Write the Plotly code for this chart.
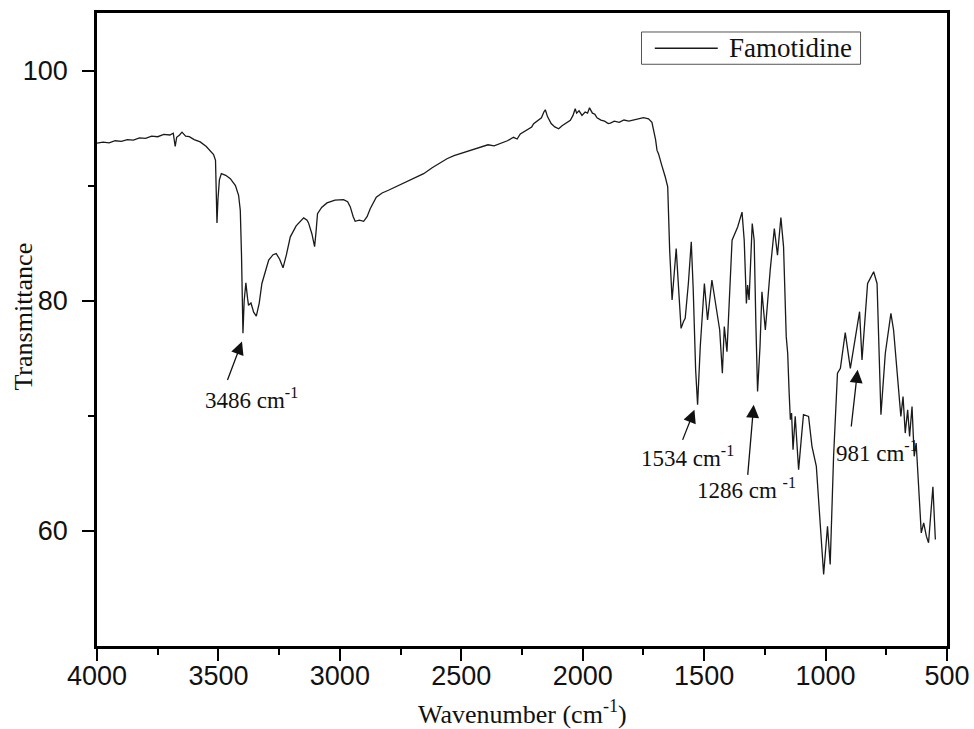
import plotly.graph_objects as go

# FT-IR spectrum of famotidine (wavenumber in cm^-1, transmittance in %)
wavenumber = [
    4000, 3975, 3950, 3925, 3900, 3875, 3850, 3825, 3800, 3775, 3750, 3725, 3700,
    3686, 3678, 3672, 3660, 3650, 3635, 3620, 3600, 3575, 3550, 3535, 3520, 3512,
    3508, 3506, 3502, 3496, 3488, 3470, 3451, 3430, 3417, 3410, 3405, 3399, 3394,
    3387, 3380, 3376, 3366, 3355, 3344, 3332, 3321, 3305, 3293, 3275, 3262, 3248,
    3234, 3220, 3204, 3180, 3160, 3149, 3135, 3129, 3115, 3104, 3098, 3092, 3075,
    3053, 3020, 2985, 2968, 2957, 2945, 2937, 2920, 2902, 2888, 2875, 2850, 2826,
    2800, 2775, 2751, 2720, 2690, 2655, 2620, 2590, 2559, 2530, 2500, 2470, 2449,
    2420, 2390, 2365, 2339, 2310, 2285, 2270, 2257, 2240, 2225, 2210, 2202, 2185,
    2170, 2160, 2154, 2145, 2130, 2115, 2099, 2085, 2070, 2051, 2040, 2031, 2025,
    2015, 2003, 1990, 1980, 1972, 1960, 1950, 1941, 1925, 1910, 1895, 1886, 1870,
    1850, 1830, 1810, 1790, 1770, 1750, 1729, 1715, 1708, 1700, 1694, 1688, 1675,
    1667, 1660, 1650, 1646, 1642, 1632, 1625, 1615, 1605, 1595, 1585, 1578, 1565,
    1553, 1545, 1535, 1527, 1516, 1499, 1486, 1468, 1450, 1436, 1425, 1417, 1406,
    1395, 1385, 1362, 1344, 1335, 1326, 1321, 1315, 1302, 1294, 1287, 1280, 1270,
    1262, 1248, 1228, 1211, 1198, 1184, 1173, 1162, 1156, 1150, 1145, 1140, 1134,
    1125, 1111, 1100, 1091, 1070, 1056, 1038, 1022, 1008, 992, 981, 967, 951,
    939, 919, 898, 878, 860, 850, 836, 827, 816, 802, 788, 772, 754,
    731, 720, 709, 699, 690, 681, 672, 662, 654, 644, 635, 627, 617,
    606, 596, 585, 576, 566, 558, 548,
]

transmittance = [
    93.70, 93.78, 93.72, 93.90, 93.85, 94.00, 93.95, 94.15, 94.10, 94.30, 94.25, 94.45, 94.40,
    94.56, 93.40, 94.20, 94.40, 94.65, 94.30, 94.25, 94.00, 93.80, 93.40, 93.00, 92.70, 92.20,
    88.50, 86.76, 88.80, 90.50, 91.04, 90.90, 90.60, 90.00, 89.16, 87.86, 84.00, 77.17, 80.00,
    81.56, 80.20, 79.60, 79.80, 79.00, 78.67, 79.80, 81.50, 82.70, 83.53, 84.00, 84.10, 83.60,
    82.86, 84.00, 85.55, 86.50, 87.00, 87.20, 87.00, 86.76, 85.80, 84.70, 86.00, 87.57, 88.10,
    88.50, 88.75, 88.79, 88.60, 88.15, 87.30, 86.90, 87.00, 86.90, 87.30, 88.00, 89.00, 89.36,
    89.60, 89.85, 90.03, 90.40, 90.70, 91.04, 91.55, 91.95, 92.34, 92.60, 92.80, 93.05, 93.20,
    93.35, 93.55, 93.45, 93.64, 93.90, 94.20, 94.05, 94.50, 94.70, 94.90, 95.10, 95.38, 95.70,
    95.90, 96.40, 96.59, 96.00, 95.40, 95.10, 94.94, 95.20, 95.40, 95.67, 96.10, 96.68, 96.30,
    96.50, 96.10, 96.40, 96.30, 96.76, 96.30, 96.20, 95.90, 95.70, 95.60, 95.40, 95.43, 95.60,
    95.50, 95.70, 95.60, 95.72, 95.80, 95.90, 95.81, 95.50, 94.80, 94.00, 93.06, 92.78, 91.80,
    91.33, 90.75, 89.90, 87.28, 84.40, 80.06, 82.00, 84.54, 81.00, 77.60, 78.20, 78.47, 81.50,
    85.12, 81.00, 74.00, 70.96, 76.00, 81.50, 78.33, 81.80, 79.48, 77.46, 73.70, 77.75, 75.58,
    80.50, 85.26, 86.41, 87.70, 85.26, 79.77, 81.36, 80.06, 86.70, 85.26, 78.00, 72.11, 76.00,
    80.78, 77.46, 82.66, 86.27, 83.96, 87.23, 84.68, 76.88, 75.44, 72.00, 69.66, 70.24, 67.06,
    69.95, 65.32, 68.00, 70.10, 69.95, 67.35, 65.61, 60.70, 56.22, 60.40, 57.09, 66.48, 73.70,
    74.13, 77.23, 74.13, 76.59, 79.05, 74.86, 79.19, 81.50, 81.94, 82.52, 81.50, 70.10, 75.44,
    78.90, 77.46, 74.86, 72.55, 69.95, 71.68, 68.50, 70.52, 68.20, 70.81, 66.48, 67.64, 63.30,
    59.83, 60.70, 59.54, 58.97, 61.86, 63.83, 59.25,
]

series_name = "Famotidine"

# Band labels: text, label centre, arrow head and arrow tail (data coordinates)
band_labels = ["3486 cm<sup>-1</sup>", "1534 cm<sup>-1</sup>", "1286 cm <sup>-1</sup>", "981 cm<sup>-1</sup>"]
label_x = [3365, 1569, 1326, 789]
label_y = [71.5, 66.5, 63.7, 66.9]
arrow_head_x = [3403, 1540, 1296, 868]
arrow_head_y = [76.45, 70.52, 70.96, 74.0]
arrow_tail_x = [3465, 1591, 1321, 895]
arrow_tail_y = [72.98, 67.78, 64.74, 68.94]

x_ticks = [4000, 3500, 3000, 2500, 2000, 1500, 1000, 500]
x_minor = [3750, 3250, 2750, 2250, 1750, 1250, 750]
y_ticks = [60, 80, 100]
y_minor = [70, 90]

SERIF = "Liberation Serif, Times New Roman, serif"
SANS = "Liberation Sans, Arial, sans-serif"
INK = "#111111"

fig = go.Figure()
fig.add_trace(go.Scatter(
    x=wavenumber, y=transmittance, mode="lines", name=series_name,
    line=dict(color="#1a1a1a", width=1.3), showlegend=False,
))

annotations = []
for hx, hy, tx, ty in zip(arrow_head_x, arrow_head_y, arrow_tail_x, arrow_tail_y):
    annotations.append(dict(
        x=hx, y=hy, ax=tx, ay=ty, xref="x", yref="y", axref="x", ayref="y",
        text="", showarrow=True, arrowhead=2, arrowsize=2.0, arrowwidth=1.3,
        arrowcolor=INK, standoff=0,
    ))
for txt, lx, ly in zip(band_labels, label_x, label_y):
    annotations.append(dict(
        x=lx, y=ly, xref="x", yref="y", text=txt, showarrow=False,
        xanchor="center", yanchor="middle",
        font=dict(family=SERIF, size=23, color=INK),
    ))

# Axis titles
annotations.append(dict(
    x=0.5, y=-0.1045, xref="paper", yref="paper", showarrow=False,
    text="Wavenumber (cm<sup>-1</sup>)", xanchor="center", yanchor="middle",
    font=dict(family=SERIF, size=26, color=INK),
))
annotations.append(dict(
    x=-0.0866, y=0.521, xref="paper", yref="paper", showarrow=False,
    text="Transmittance", textangle=-90, xanchor="center", yanchor="middle",
    font=dict(family=SERIF, size=26, color=INK),
))

# Legend box in the upper right of the plot area
legend_box = dict(x0=0.6406, x1=0.8983, y0=0.9190, y1=0.9700)
legend_line = dict(x0=0.6562, x1=0.7303, y=0.9443)
shapes = [
    dict(type="rect", xref="paper", yref="paper", **legend_box,
         line=dict(color="#555555", width=1), fillcolor="white", layer="above"),
    dict(type="line", xref="paper", yref="paper",
         x0=legend_line["x0"], x1=legend_line["x1"],
         y0=legend_line["y"], y1=legend_line["y"],
         line=dict(color="#1a1a1a", width=1.3), layer="above"),
]
annotations.append(dict(
    x=0.7408, y=legend_line["y"], xref="paper", yref="paper", showarrow=False,
    text=series_name, xanchor="left", yanchor="middle",
    font=dict(family=SERIF, size=27, color=INK),
))

axis_common = dict(
    showgrid=False, zeroline=False, showline=True, linecolor="#000000",
    linewidth=2.5, mirror=True, ticks="outside", ticklen=12, tickwidth=2,
    tickcolor="#000000", tickfont=dict(family=SANS, size=27, color=INK),
    automargin=False,
)

fig.update_layout(
    width=974, height=729,
    margin=dict(l=97, r=27, t=13, b=83),
    paper_bgcolor="white", plot_bgcolor="white",
    xaxis=dict(
        range=[4000, 500], tickvals=x_ticks, ticklabelstandoff=-8,
        minor=dict(tickvals=x_minor, ticks="outside", ticklen=6,
                   tickwidth=2, tickcolor="#000000"),
        **axis_common,
    ),
    yaxis=dict(
        range=[50, 105], tickvals=y_ticks, ticklabelstandoff=9,
        minor=dict(tickvals=y_minor, ticks="outside", ticklen=6,
                   tickwidth=2, tickcolor="#000000"),
        **axis_common,
    ),
    showlegend=False,
    shapes=shapes,
    annotations=annotations,
)

fig.write_html("out.html")
